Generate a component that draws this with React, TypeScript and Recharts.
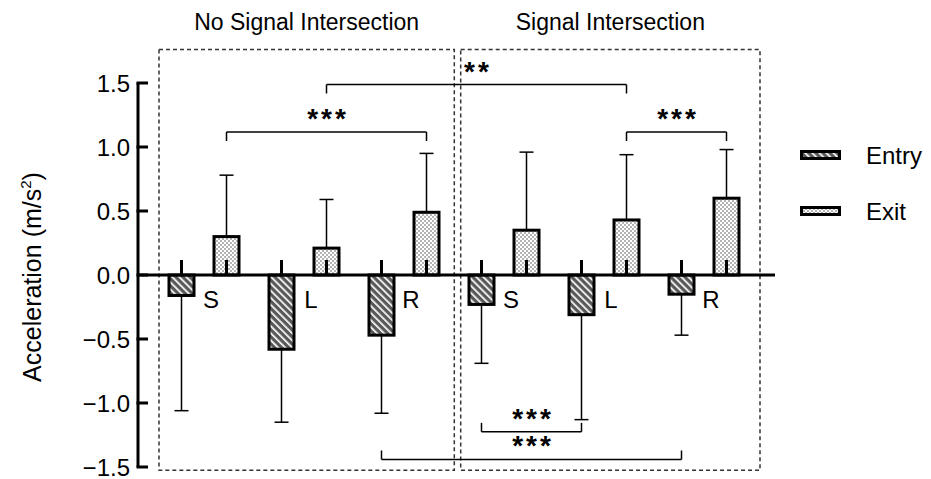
import React from 'react';
import { BarChart, Bar, XAxis, YAxis, ErrorBar, ReferenceLine, ReferenceArea, LabelList } from 'recharts';

// movement per intersection group: Straight, Left turn, Right turn
const categories = ['S', 'L', 'R', 'S', 'L', 'R'];
const entryMean = [-0.16, -0.58, -0.47, -0.23, -0.31, -0.15];
const entrySd = [0.9, 0.57, 0.61, 0.46, 0.82, 0.32];
const exitMean = [0.3, 0.21, 0.49, 0.35, 0.43, 0.6];
const exitSd = [0.48, 0.38, 0.46, 0.61, 0.51, 0.38];
const yTicks = [-1.5, -1.0, -0.5, 0, 0.5, 1.0, 1.5];
const seriesNames = ['Entry', 'Exit'];

// dashed frames around the two intersection types (x in category units)
const groupNames = ['No Signal Intersection', 'Signal Intersection'];
const groupX = [[0.05, 3.003], [3.067, 6.06]];
const groupY = [-1.525, 1.762];

// significance brackets; bar index = category * 2 + (0 entry, 1 exit)
const cmpFrom = [3, 1, 9, 6, 4];
const cmpTo = [9, 5, 11, 8, 10];
const cmpLevel = [1.488, 1.117, 1.117, -1.225, -1.441];
const cmpLabel = ['**', '***', '***', '***', '***'];

const FONT = '"Liberation Sans", Arial, sans-serif';
const CAP = 0.07;

const data = categories.map((c, i) => ({
  cat: c,
  pos: i + 0.5,
  entry: entryMean[i],
  entryErr: [entrySd[i], 0],
  exit: exitMean[i],
  exitErr: [0, exitSd[i]],
}));

const barPos = (i: number) => Math.floor(i / 2) + 0.5 + (i % 2 ? 0.225 : -0.225);

const fmt = (v: number) => (v < 0 ? '\u2212' : '') + Math.abs(v).toFixed(1);

const makeShape = (fillId: string, key: string) => (props: any) => {
  const { x, y, width, height, payload } = props;
  const top = Math.min(y, y + height);
  const h = Math.abs(height);
  const v = payload[key];
  const base = v >= 0 ? top + h : top;
  const cx = x + width / 2;
  return (
    <g>
      <rect x={x} y={top} width={width} height={h} fill={`url(#${fillId})`} stroke="#000" strokeWidth={3} />
      <line x1={cx} x2={cx} y1={base} y2={base - 15} stroke="#000" strokeWidth={3} />
    </g>
  );
};

const YTick = ({ x, y, payload }: any) => (
  <g>
    <line x1={x + 6.5} x2={x + 18} y1={y} y2={y} stroke="#000" strokeWidth={3} />
    <text x={x} y={y} dy={8.5} textAnchor="end" fontSize={24} fill="#000" fontFamily={FONT}>
      {fmt(payload.value)}
    </text>
  </g>
);

const AxisTitle = ({ viewBox }: any) => {
  const cx = 41;
  const cy = viewBox.y + viewBox.height / 2 + 2;
  return (
    <text x={cx} y={cy} transform={`rotate(-90, ${cx}, ${cy})`} textAnchor="middle" fontSize={25} fill="#000" fontFamily={FONT}>
      Acceleration (m/s<tspan fontSize={15} dy={-10}>2</tspan>
      <tspan dy={10}>)</tspan>
    </text>
  );
};

const CatLabel = (props: any) => {
  const vb = props.viewBox || props;
  const top = Math.min(vb.y, vb.y + vb.height);
  return (
    <text x={vb.x + vb.width + 17} y={top + 33} textAnchor="middle" fontSize={24} fill="#000" fontFamily={FONT}>
      {props.value}
    </text>
  );
};

const starLabel = (txt: string) => (p: any) => {
  const vb = p.viewBox;
  return (
    <text x={vb.x + vb.width / 2 + 1.5} y={vb.y - 4} textAnchor="middle" fontSize={28} fontWeight="bold" letterSpacing={3} fill="#000" fontFamily={FONT}>
      {txt}
    </text>
  );
};

const titleLabel = (txt: string) => (p: any) => {
  const vb = p.viewBox;
  return (
    <text x={vb.x + vb.width / 2} y={vb.y - 19} textAnchor="middle" fontSize={23} fill="#000" fontFamily={FONT}>
      {txt}
    </text>
  );
};

export default function App() {
  return (
    <div style={{ position: 'absolute', left: 0, top: 0, width: 931, height: 479, background: '#fff', fontFamily: FONT }}>
      <BarChart
        width={931}
        height={479}
        data={data}
        margin={{ top: 83, right: 156, bottom: 12, left: 0 }}
        barSize={25}
        barGap={20}
      >
        <defs>
          <pattern id="entryFill" width={5} height={5} patternUnits="userSpaceOnUse" patternTransform="rotate(-45)">
            <rect width={5} height={5} fill="#595959" />
            <rect width={1.7} height={5} fill="#fff" />
          </pattern>
          <pattern id="exitFill" width={4} height={4} patternUnits="userSpaceOnUse">
            <rect width={4} height={4} fill="#fff" />
            <rect width={2} height={2} fill="#b4b4b4" />
            <rect x={2} y={2} width={2} height={2} fill="#b4b4b4" />
          </pattern>
        </defs>
        <XAxis dataKey="cat" hide padding={{ left: 16, right: 21 }} />
        <XAxis
          xAxisId="n"
          dataKey="pos"
          type="number"
          domain={[0, 6]}
          hide
          allowDataOverflow
          padding={{ left: 16, right: 21 }}
        />
        <YAxis
          domain={[-1.5, 1.5]}
          ticks={yTicks}
          interval={0}
          allowDataOverflow
          width={138}
          axisLine={{ stroke: '#000', strokeWidth: 3 }}
          tickLine={false}
          tickSize={0}
          tickMargin={8}
          tick={<YTick />}
          label={{ content: AxisTitle }}
        />
        {groupNames.map((g, i) => (
          <ReferenceArea
            key={g}
            xAxisId="n"
            x1={groupX[i][0]}
            x2={groupX[i][1]}
            y1={groupY[0]}
            y2={groupY[1]}
            ifOverflow="visible"
            fill="none"
            fillOpacity={0}
            stroke="#333"
            strokeWidth={1.5}
            strokeDasharray="4 3"
            label={titleLabel(g)}
          />
        ))}
        <Bar dataKey="entry" name={seriesNames[0]} shape={makeShape('entryFill', 'entry')} isAnimationActive={false}>
          <ErrorBar dataKey="entryErr" direction="y" width={7} stroke="#000" strokeWidth={1.5} isAnimationActive={false} />
          <LabelList dataKey="cat" content={CatLabel} />
        </Bar>
        <Bar dataKey="exit" name={seriesNames[1]} shape={makeShape('exitFill', 'exit')} isAnimationActive={false}>
          <ErrorBar dataKey="exitErr" direction="y" width={7} stroke="#000" strokeWidth={1.5} isAnimationActive={false} />
        </Bar>
        <ReferenceLine y={0} stroke="#000" strokeWidth={3} />
        {cmpLabel.map((lab, i) => {
          const a = barPos(cmpFrom[i]);
          const b = barPos(cmpTo[i]);
          const yv = cmpLevel[i];
          const yt = yv > 0 ? yv - CAP : yv + CAP;
          return (
            <React.Fragment key={i}>
              <ReferenceLine xAxisId="n" segment={[{ x: a, y: yv }, { x: b, y: yv }]} stroke="#000" strokeWidth={1.5} ifOverflow="visible" label={starLabel(lab)} />
              <ReferenceLine xAxisId="n" segment={[{ x: a, y: yv }, { x: a, y: yt }]} stroke="#000" strokeWidth={1.5} ifOverflow="visible" />
              <ReferenceLine xAxisId="n" segment={[{ x: b, y: yv }, { x: b, y: yt }]} stroke="#000" strokeWidth={1.5} ifOverflow="visible" />
            </React.Fragment>
          );
        })}
      </BarChart>
      <svg width={136} height={100} style={{ position: 'absolute', left: 795, top: 130 }}>
        {seriesNames.map((s, i) => {
          const cy = 25 + i * 56;
          return (
            <g key={s}>
              <rect x={6.5} y={cy - 3.5} width={38} height={7} fill={`url(#${i === 0 ? 'entryFill' : 'exitFill'})`} stroke="#000" strokeWidth={3} />
              <text x={71} y={cy + 8.5} fontSize={24} fill="#000" fontFamily={FONT}>{s}</text>
            </g>
          );
        })}
      </svg>
    </div>
  );
}
